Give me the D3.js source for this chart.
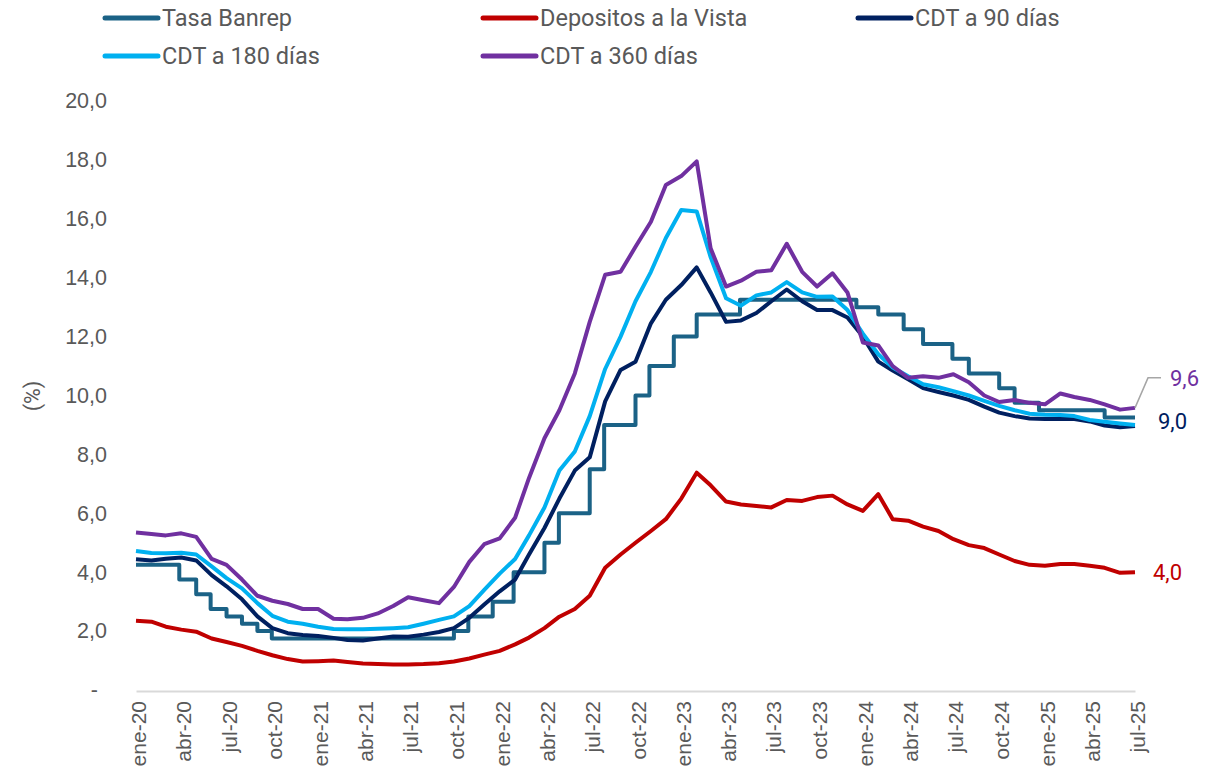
<!DOCTYPE html>
<html>
<head>
<meta charset="utf-8">
<script src="https://cdn.jsdelivr.net/npm/d3@7"></script>
<style>
  body { margin: 0; background: #fff; }
  svg { display: block; font-family: Roboto, "Noto Sans", sans-serif; }
</style>
</head>
<body>
<svg id="chart" width="1228" height="780"></svg>
<script>
// monthly observations, ene-20 .. jul-25 (67 points)
const startMonth = new Date(2020, 0, 1);
const endMonth = new Date(2025, 6, 1);

const depositos = [
  2.35, 2.32, 2.15, 2.05, 1.98, 1.75, 1.63, 1.50, 1.33, 1.18, 1.05, 0.97,
  0.98, 1.00, 0.95, 0.90, 0.88, 0.87, 0.87, 0.88, 0.91, 0.97, 1.07, 1.20,
  1.33, 1.55, 1.78, 2.10, 2.49, 2.75, 3.20, 4.15, 4.60, 5.00, 5.40, 5.80,
  6.50, 7.38, 6.95, 6.40, 6.30, 6.25, 6.20, 6.45, 6.42, 6.55, 6.60, 6.30,
  6.08, 6.65, 5.80, 5.75, 5.55, 5.40, 5.12, 4.92, 4.82, 4.60, 4.38, 4.25,
  4.22, 4.28, 4.28, 4.22, 4.15, 3.98, 4.00
];
const cdt90 = [
  4.44, 4.40, 4.46, 4.50, 4.40, 3.90, 3.52, 3.08, 2.50, 2.10, 1.93, 1.87,
  1.83, 1.77, 1.70, 1.68, 1.75, 1.82, 1.81, 1.88, 1.97, 2.10, 2.45, 2.90,
  3.35, 3.75, 4.60, 5.50, 6.50, 7.45, 7.90, 9.80, 10.87, 11.15, 12.45, 13.25,
  13.75, 14.35, 13.50, 12.50, 12.55, 12.80, 13.20, 13.60, 13.20, 12.90, 12.90, 12.65,
  12.00, 11.15, 10.85, 10.55, 10.25, 10.12, 10.00, 9.85, 9.62, 9.42, 9.30, 9.22,
  9.20, 9.20, 9.20, 9.12, 8.98, 8.92, 8.96
];
const cdt180 = [
  4.72, 4.65, 4.64, 4.66, 4.60, 4.20, 3.80, 3.45, 2.95, 2.52, 2.32, 2.25,
  2.15, 2.07, 2.06, 2.06, 2.08, 2.10, 2.13, 2.25, 2.38, 2.50, 2.85, 3.40,
  3.95, 4.45, 5.25, 6.20, 7.45, 8.10, 9.30, 10.90, 12.00, 13.20, 14.20, 15.35,
  16.30, 16.25, 14.70, 13.30, 13.05, 13.40, 13.50, 13.85, 13.50, 13.35, 13.36, 12.90,
  12.10, 11.40, 10.95, 10.65, 10.38, 10.28, 10.15, 10.00, 9.82, 9.65, 9.50, 9.38,
  9.35, 9.34, 9.30, 9.17, 9.11, 9.05, 9.00
];
const cdt360 = [
  5.35, 5.30, 5.25, 5.32, 5.20, 4.45, 4.25, 3.75, 3.20, 3.03, 2.92, 2.75,
  2.75, 2.42, 2.40, 2.45, 2.60, 2.85, 3.15, 3.05, 2.95, 3.50, 4.35, 4.95,
  5.15, 5.85, 7.20, 8.55, 9.50, 10.75, 12.50, 14.10, 14.20, 15.05, 15.90, 17.15,
  17.45, 17.95, 15.00, 13.70, 13.90, 14.20, 14.25, 15.15, 14.20, 13.70, 14.15, 13.50,
  11.80, 11.70, 11.00, 10.60, 10.65, 10.60, 10.72, 10.45, 10.00, 9.78, 9.85, 9.75,
  9.70, 10.07, 9.95, 9.85, 9.70, 9.52, 9.58
];

// tasa de política monetaria: fecha de vigencia y nivel
const banrepDates = [
  "2020-01-01", "2020-03-28", "2020-05-01", "2020-05-30", "2020-07-01", "2020-08-01",
  "2020-09-01", "2020-09-30", "2021-10-01", "2021-10-30", "2021-12-18", "2022-01-29",
  "2022-04-01", "2022-04-30", "2022-07-01", "2022-07-30", "2022-10-01", "2022-10-29",
  "2022-12-17", "2023-02-01", "2023-04-29", "2023-12-19", "2024-02-01", "2024-03-23",
  "2024-05-01", "2024-06-29", "2024-08-01", "2024-10-01", "2024-11-01", "2024-12-20",
  "2025-05-01", "2025-07-01"
];
const banrepRates = [
  4.25, 3.75, 3.25, 2.75, 2.50, 2.25,
  2.00, 1.75, 2.00, 2.50, 3.00, 4.00,
  5.00, 6.00, 7.50, 9.00, 10.00, 11.00,
  12.00, 12.75, 13.25, 13.00, 12.75, 12.25,
  11.75, 11.25, 10.75, 10.25, 9.75, 9.50,
  9.25, 9.25
];

const tickLabels = [
  "ene-20", "abr-20", "jul-20", "oct-20", "ene-21", "abr-21", "jul-21", "oct-21",
  "ene-22", "abr-22", "jul-22", "oct-22", "ene-23", "abr-23", "jul-23", "oct-23",
  "ene-24", "abr-24", "jul-24", "oct-24", "ene-25", "abr-25", "jul-25"
];
const yTicks = [0, 2, 4, 6, 8, 10, 12, 14, 16, 18, 20];

const seriesNames = ["Tasa Banrep", "Depositos a la Vista", "CDT a 90 días", "CDT a 180 días", "CDT a 360 días"];
const seriesColors = ["#1b6286", "#c00000", "#002060", "#00b0f0", "#7030a0"];

const months = d3.timeMonth.range(startMonth, d3.timeMonth.offset(endMonth, 1));
const quarterTicks = d3.timeMonth.every(3).range(startMonth, d3.timeMonth.offset(endMonth, 1));
const parse = d3.timeParse("%Y-%m-%d");

const svg = d3.select("#chart");
const textColor = "#595959";

const x = d3.scaleTime().domain([startMonth, endMonth]).range([136, 1135]);
const y = d3.scaleLinear().domain([0, 20]).range([690, 101]);

// eje x
const xAxis = svg.append("g")
  .attr("transform", "translate(0,691)")
  .call(d3.axisBottom(x).tickValues(quarterTicks).tickSize(0).tickFormat((d, i) => tickLabels[i]));
xAxis.select(".domain").attr("stroke", "#d9d9d9").attr("stroke-width", 2);
xAxis.selectAll("text")
  .attr("transform", "rotate(-90)")
  .attr("text-anchor", "end")
  .attr("x", -10)
  .attr("y", 2)
  .attr("dy", "0.36em")
  .attr("fill", textColor)
  .style("font-size", "21px");

// eje y
const yAxis = svg.append("g")
  .attr("transform", "translate(136,0)")
  .call(d3.axisLeft(y).tickValues(yTicks).tickSize(0).tickPadding(29)
    .tickFormat(d => d === 0 ? "-" : d3.format(".1f")(d).replace(".", ",")));
yAxis.select(".domain").remove();
yAxis.selectAll("text")
  .attr("fill", textColor)
  .style("font-size", "21.5px")
  .attr("dx", d => d === 0 ? -9 : 0);

svg.append("text")
  .attr("transform", "translate(40,396) rotate(-90)")
  .attr("text-anchor", "middle")
  .attr("fill", textColor)
  .style("font-size", "21.5px")
  .text("(%)");

// series
const line = d3.line().x(d => x(d[0])).y(d => y(d[1]));
const banrep = banrepDates.map((d, i) => [parse(d), banrepRates[i]]);
const allSeries = [
  { data: banrep, curve: d3.curveStepAfter },
  { data: months.map((m, i) => [m, depositos[i]]), curve: d3.curveLinear },
  { data: months.map((m, i) => [m, cdt90[i]]), curve: d3.curveLinear },
  { data: months.map((m, i) => [m, cdt180[i]]), curve: d3.curveLinear },
  { data: months.map((m, i) => [m, cdt360[i]]), curve: d3.curveLinear }
];

svg.append("g")
  .selectAll("path")
  .data(allSeries)
  .join("path")
  .attr("fill", "none")
  .attr("stroke", (d, i) => seriesColors[i])
  .attr("stroke-width", 4)
  .attr("stroke-linejoin", "round")
  .attr("d", d => line.curve(d.curve)(d.data));

// etiquetas del último dato
const last = months.length - 1;
const lx = x(endMonth);
svg.append("polyline")
  .attr("points", [[lx, y(cdt360[last])], [lx + 13, y(cdt360[last]) - 30], [lx + 26, y(cdt360[last]) - 30]].join(" "))
  .attr("fill", "none")
  .attr("stroke", "#a6a6a6")
  .attr("stroke-width", 1.5);

const endLabels = [
  { v: cdt360[last], color: seriesColors[4], dx: 35, dy: -30 },
  { v: cdt90[last], color: seriesColors[2], dx: 23, dy: -5 },
  { v: depositos[last], color: seriesColors[1], dx: 18, dy: 0 }
];
svg.append("g")
  .selectAll("text")
  .data(endLabels)
  .join("text")
  .attr("x", d => lx + d.dx)
  .attr("y", d => y(d.v) + d.dy)
  .attr("dy", "0.35em")
  .attr("fill", d => d.color)
  .style("font-size", "22px")
  .text(d => d3.format(".1f")(d.v).replace(".", ","));

// leyenda
const legendPos = [[105, 18], [483, 18], [858, 18], [105, 56], [483, 56]];
const legend = svg.append("g")
  .selectAll("g")
  .data(seriesNames)
  .join("g")
  .attr("transform", (d, i) => `translate(${legendPos[i][0]},${legendPos[i][1]})`);
legend.append("line")
  .attr("x1", 0).attr("x2", 53)
  .attr("stroke", (d, i) => seriesColors[i])
  .attr("stroke-width", 5)
  .attr("stroke-linecap", "round");
legend.append("text")
  .attr("x", 57)
  .attr("dy", "0.35em")
  .attr("fill", textColor)
  .style("font-size", "23.5px")
  .text(d => d);
</script>
</body>
</html>
